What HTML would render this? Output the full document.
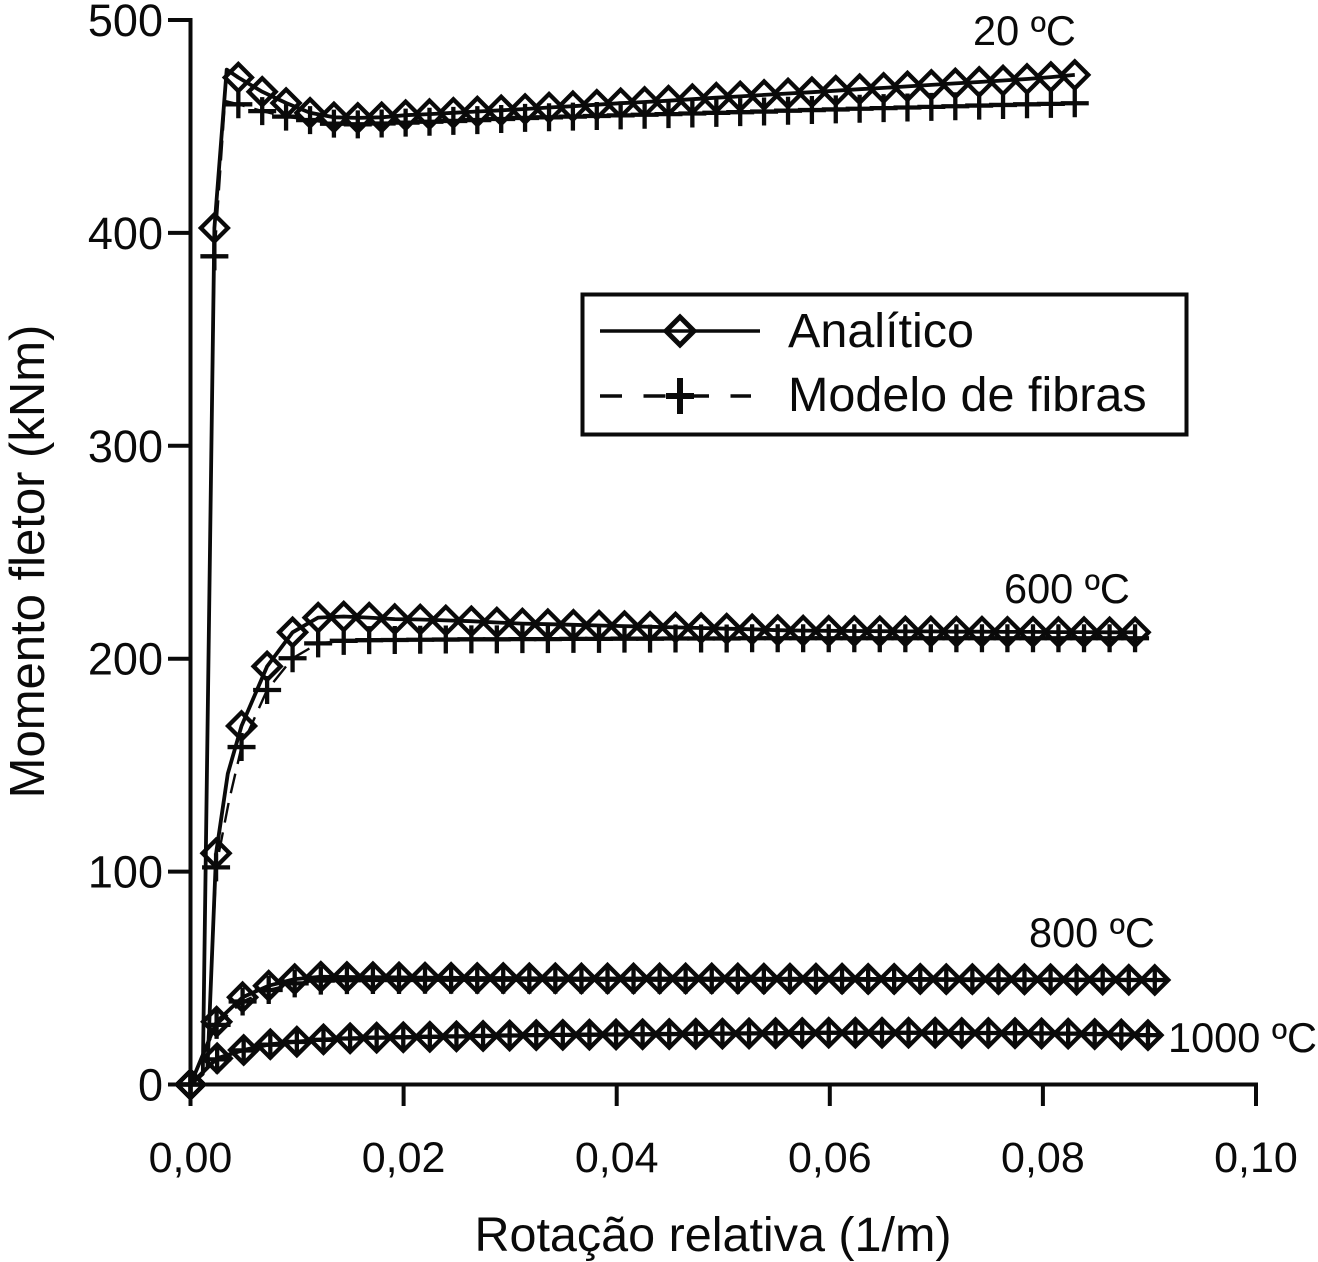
<!DOCTYPE html>
<html lang="pt">
<head>
<meta charset="utf-8">
<title>Momento fletor vs rotação relativa</title>
<style>
html,body{margin:0;padding:0;background:#fff;width:1318px;height:1262px;overflow:hidden}
svg{display:block}
text{font-family:"Liberation Sans",Arial,sans-serif;fill:#0a0a0a}
</style>
</head>
<body>
<svg id="chart" xmlns="http://www.w3.org/2000/svg" width="1318" height="1262" viewBox="0 0 1318 1262">
  <text x="713" y="1251" font-size="48.5" text-anchor="middle">Rotação relativa (1/m)</text>
  <text transform="translate(44,561.5) rotate(-90)" font-size="49" text-anchor="middle">Momento fletor (kNm)</text>
  <text x="973" y="45" font-size="41.5">20 ºC</text>
  <text x="1004" y="603" font-size="41.5">600 ºC</text>
  <text x="1029" y="947" font-size="41.5">800 ºC</text>
  <text x="1168" y="1052" font-size="41.5">1000 ºC</text>
  <g id="axes"></g>
  <g id="series"></g>
  <g>
    <rect x="582.5" y="294.5" width="604" height="140" fill="#fff" stroke="#0a0a0a" stroke-width="4"/>
    <g>
      <line x1="600" y1="331" x2="760" y2="331" stroke="#0a0a0a" stroke-width="3.5"/>
      <path d="M680 317 L694 331 L680 345 L666 331 Z" fill="none" stroke="#0a0a0a" stroke-width="5"/>
      <text x="788" y="347" font-size="48.5">Analítico</text>
    </g>
    <g>
      <line x1="600" y1="396" x2="751" y2="396" stroke="#0a0a0a" stroke-width="3.5" stroke-dasharray="22 21.5"/>
      <path d="M666 396 H694 M680 378 V414" fill="none" stroke="#0a0a0a" stroke-width="6"/>
      <text x="788" y="411" font-size="48.5">Modelo de fibras</text>
    </g>
  </g>
</svg>
<script>
const xTicks = [0, 0.02, 0.04, 0.06, 0.08, 0.10];
const xTickLabels = ["0,00", "0,02", "0,04", "0,06", "0,08", "0,10"];
const yTicks = [0, 100, 200, 300, 400, 500];
const yTickLabels = ["0", "100", "200", "300", "400", "500"];

const x20 = [0,.00224,.00449,.00673,.00897,.01122,.01346,.0157,.01794,.02019,.02243,.02467,.02692,.02916,.0314,.03365,.03589,.03813,.04037,.04262,.04486,.0471,.04935,.05159,.05383,.05608,.05832,.06056,.0628,.06505,.06729,.06953,.07178,.07402,.07626,.07851,.08075,.08299];
const analitico20 = [0,402.3,473,466.3,461,456.4,454.3,454,454.3,455.3,455.8,456.4,457,457.6,458.2,458.9,459.5,460.2,460.9,461.5,462.1,462.8,463.5,464.1,464.8,465.5,466.1,466.8,467.5,468.1,468.8,469.5,470.2,470.9,471.6,472.3,473.2,474.2];
const fibras20 = [0,389,460.4,457.2,454.6,453,451.3,451,451.4,451.8,452.2,452.6,453,453.5,454,454.3,454.6,454.9,455.2,455.5,455.8,456.1,456.4,456.7,457,457.4,457.7,458,458.3,458.6,458.9,459.2,459.5,459.8,460.1,460.4,460.6,460.9];

const x600 = [0,.0024,.00479,.00719,.00958,.01198,.01438,.01677,.01917,.02156,.02396,.02636,.02875,.03115,.03354,.03594,.03834,.04073,.04313,.04552,.04792,.05032,.05271,.05511,.0575,.0599,.0623,.06469,.06709,.06948,.07188,.07428,.07667,.07907,.08146,.08386,.08626,.08865];
const analitico600 = [0,108.6,168.4,196.4,212.4,219.3,219.8,219.3,218.6,218.4,218,217.6,217,216.5,216.2,215.9,215.6,215.3,215,214.7,214.4,214.1,213.8,213.4,213.2,213.1,213,212.9,212.8,212.8,212.7,212.7,212.6,212.6,212.5,212.5,212.4,212.4];
const fibras600 = [0,102,158.5,185.3,200.2,207.2,208.4,208.7,208.8,208.9,209,209.1,209.1,209.2,209.2,209.3,209.3,209.4,209.4,209.5,209.5,209.5,209.6,209.6,209.6,209.6,209.6,209.6,209.6,209.6,209.6,209.6,209.6,209.6,209.6,209.6,209.6,209.6];

const x800 = [0,.00245,.00489,.00734,.00978,.01223,.01468,.01712,.01957,.02201,.02446,.02691,.02935,.0318,.03424,.03669,.03914,.04158,.04403,.04647,.04892,.05137,.05381,.05626,.0587,.06115,.0636,.06604,.06849,.07093,.07338,.07583,.07827,.08072,.08316,.08561,.08806,.0905];
const analitico800 = [0,29.5,41,46.4,49.5,50.6,50.5,50.4,50.3,50.2,50.1,50,50,49.9,49.9,49.8,49.8,49.8,49.8,49.8,49.8,49.8,49.7,49.7,49.7,49.7,49.6,49.6,49.6,49.5,49.5,49.5,49.4,49.4,49.3,49.3,49.2,49.1];
const fibras800 = [0,28,39,44.4,47.5,48.8,49,49.1,49.1,49.2,49.2,49.2,49.2,49.2,49.2,49.2,49.2,49.2,49.2,49.2,49.2,49.2,49.2,49.2,49.2,49.2,49.2,49.2,49.2,49.2,49.1,49.1,49.1,49.1,49.1,49.1,49.1,49.1];

const x1000 = [0,.0025,.00499,.00749,.00998,.01248,.01498,.01747,.01997,.02246,.02496,.02746,.02995,.03245,.03494,.03744,.03994,.04243,.04493,.04742,.04992,.05242,.05491,.05741,.0599,.0624,.0649,.06739,.06989,.07238,.07488,.07738,.07987,.08237,.08486,.08736,.08986];
const analitico1000 = [0,12.3,16.2,18.9,20.1,21.2,21.7,22,22.2,22.4,22.6,22.8,23,23.2,23.3,23.4,23.5,23.6,23.7,23.8,23.9,24,24.1,24.2,24.3,24.3,24.3,24.3,24.3,24.2,24.2,24.1,24,23.9,23.7,23.5,23.2];
const fibras1000 = [0,11.8,16,18.7,20,21,21.6,22,22.2,22.4,22.6,22.8,23,23.2,23.3,23.4,23.5,23.6,23.7,23.8,23.9,24,24.1,24.2,24.3,24.3,24.3,24.3,24.3,24.2,24.2,24.1,24,23.9,23.7,23.5,23.2];

/* extra curve vertices between markers (the line has more samples than markers) */
const extraX20A = [.00115,.0034];
const extraY20A = [5,476.7];
const extraX20F = [.00115,.00324];
const extraY20F = [5,462];
const extraX600A = [.0016,.0035];
const extraY600A = [8,146];
const extraX600F = [.0016,.0036];
const extraY600F = [8,133];

const NS = "http://www.w3.org/2000/svg";
const scaleX = v => 190.5 + v * 10655;
const scaleY = v => 1084.5 - v * 2.129;
const ink = "#0a0a0a";

function make(parent, tag, attrs) {
  const node = document.createElementNS(NS, tag);
  for (const k in attrs) node.setAttribute(k, attrs[k]);
  parent.appendChild(node);
  return node;
}

function drawAxes() {
  const g = document.getElementById("axes");
  const yAxis = make(g, "line", {x1: scaleX(0), x2: scaleX(0), y1: scaleY(500) - 2, y2: scaleY(0) + 2, stroke: ink, "stroke-width": 4});
  
  
  const xAxis = make(g, "line", {x1: scaleX(0), x2: scaleX(0.10) + 2, y1: scaleY(0), y2: scaleY(0), stroke: ink, "stroke-width": 4});
  
  
  yTicks.forEach((v, i) => {
    const tick = make(g, "line", {x1: 168, x2: scaleX(0), y1: scaleY(v), y2: scaleY(v), stroke: ink, "stroke-width": 4});
    
    
    const label = make(g, "text", {x: 163, y: scaleY(v) + 16, "font-size": 45, "text-anchor": "end"});
    
    
    label.textContent = yTickLabels[i];
  });
  xTicks.forEach((v, i) => {
    const tick = make(g, "line", {x1: scaleX(v), x2: scaleX(v), y1: scaleY(0), y2: 1106, stroke: ink, "stroke-width": 4});
    
    
    const label = make(g, "text", {x: scaleX(v), y: 1172, "font-size": 43, "text-anchor": "middle"});
    
    
    label.textContent = xTickLabels[i];
  });
}

function linePath(xs, ys, ex, ey) {
  const pts = xs.map((x, i) => [x, ys[i]]);
  ex.forEach((x, i) => pts.push([x, ey[i]]));
  pts.sort((a, b) => a[0] - b[0]);
  return pts.map((p, i) => (i ? "L" : "M") + scaleX(p[0]).toFixed(1) + " " + scaleY(p[1]).toFixed(1)).join(" ");
}

function drawAnalitico(g, xs, ys, ex, ey) {
  const line = make(g, "path", {d: linePath(xs, ys, ex, ey), fill: "none", stroke: ink, "stroke-width": 3.8, "stroke-linejoin": "round"});
  
  
  xs.forEach((x, i) => {
    const cx = scaleX(x), cy = scaleY(ys[i]), r = 13.5;
    const m = make(g, "path", {d: `M${cx} ${cy - r} L${cx + r} ${cy} L${cx} ${cy + r} L${cx - r} ${cy} Z`, fill: "none", stroke: ink, "stroke-width": 4.3});
    
    
  });
}

function drawFibras(g, xs, ys, ex, ey) {
  const line = make(g, "path", {d: linePath(xs, ys, ex, ey), fill: "none", stroke: ink, "stroke-width": 2.4, "stroke-dasharray": "20 10"});
  
  
  xs.forEach((x, i) => {
    const cx = scaleX(x), cy = scaleY(ys[i]), r = 14;
    const m = make(g, "path", {d: `M${cx - r} ${cy} H${cx + r} M${cx} ${cy - r} V${cy + r}`, fill: "none", stroke: ink, "stroke-width": 4.3});
    
    
  });
}

drawAxes();
const seriesRoot = document.getElementById("series");
const g20 = make(seriesRoot, "g", {});


drawAnalitico(g20, x20, analitico20, extraX20A, extraY20A);
drawFibras(g20, x20, fibras20, extraX20F, extraY20F);
const g600 = make(seriesRoot, "g", {});


drawAnalitico(g600, x600, analitico600, extraX600A, extraY600A);
drawFibras(g600, x600, fibras600, extraX600F, extraY600F);
const g800 = make(seriesRoot, "g", {});


drawAnalitico(g800, x800, analitico800, [], []);
drawFibras(g800, x800, fibras800, [], []);
const g1000 = make(seriesRoot, "g", {});


drawAnalitico(g1000, x1000, analitico1000, [], []);
drawFibras(g1000, x1000, fibras1000, [], []);
</script>
</body>
</html>
